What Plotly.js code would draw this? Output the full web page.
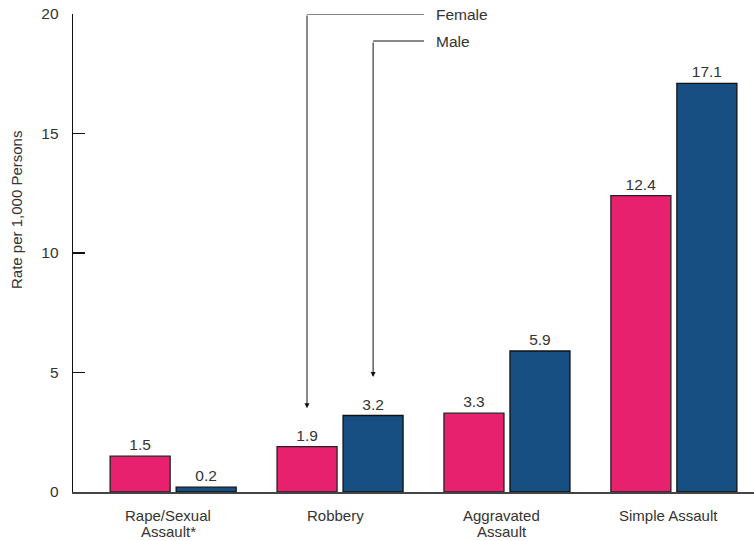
<!DOCTYPE html>
<html>
<head>
<meta charset="utf-8">
<script src="https://cdn.plot.ly/plotly-3.0.1.min.js"></script>
<style>html,body{margin:0;padding:0;background:#fff;}#chart{width:754px;height:541px;}</style>
</head>
<body>
<div id="chart"></div>
<script>
const categories = ["Rape/Sexual<br>Assault*", "Robbery", "Aggravated<br>Assault", "Simple Assault"];
const female = [1.5, 1.9, 3.3, 12.4];
const male = [0.2, 3.2, 5.9, 17.1];
const yTicks = [0, 5, 10, 15, 20];

const font = "Liberation Sans, Arial, sans-serif";
const fs = 15.5;
const catIdx = categories.map((c, i) => i);

const traces = [
  {type: 'bar', name: 'Female', x: catIdx, y: female,
   text: female.map(v => v.toFixed(1)), textposition: 'outside', cliponaxis: false,
   textfont: {family: font, size: fs, color: '#333'},
   marker: {color: '#E8216E', line: {color: '#222', width: 1.3}}},
  {type: 'bar', name: 'Male', x: catIdx, y: male,
   text: male.map(v => v.toFixed(1)), textposition: 'outside', cliponaxis: false,
   textfont: {family: font, size: fs, color: '#333'},
   marker: {color: '#174F82', line: {color: '#111', width: 1.3}}}
];

// offsets of bars within a group
const off = 0.198;
const fx = 1 - off, mx = 1 + off;

// category labels, one annotation per line
const catAnn = [];
categories.forEach((c, i) => {
  c.split('<br>').forEach((line, j) => {
    catAnn.push({xref: 'x', yref: 'paper', x: i, y: 0, xshift: -5, yshift: -23 - 16 * j,
      xanchor: 'center', yanchor: 'middle', text: line, showarrow: false, borderpad: 0,
      font: {family: font, size: 15, color: '#333'}});
  });
});

const layout = {
  width: 754, height: 541,
  margin: {l: 73, r: 0, t: 14, b: 49},
  paper_bgcolor: '#fff', plot_bgcolor: '#fff',
  showlegend: false,
  barmode: 'group', bargap: 0.209, bargroupgap: 0.0909,
  font: {family: font, color: '#333'},
  xaxis: {
    range: [-0.6, 3.48], tickmode: 'array', tickvals: catIdx,
    showticklabels: false,
    showgrid: false, zeroline: false, showline: true, linecolor: '#444', linewidth: 1.5,
    ticks: ''
  },
  yaxis: {
    range: [0, 20], tickvals: yTicks, ticktext: yTicks.map(String),
    showgrid: false, zeroline: false, showline: true, linecolor: '#111', linewidth: 1.3,
    ticks: 'inside', ticklen: 12, tickwidth: 1.3, tickcolor: '#111',
    ticklabelstandoff: 10, tickfont: {family: font, size: fs, color: '#333'}
  },
  shapes: [
    {type: 'line', xref: 'x', yref: 'y', x0: fx, x1: 1.503, y0: 20, y1: 20, line: {color: '#111', width: 1}},
    {type: 'line', xref: 'x', yref: 'y', x0: mx, x1: 1.503, y0: 18.87, y1: 18.87, line: {color: '#111', width: 1}}
  ],
  annotations: [
    {xref: 'x', yref: 'y', axref: 'x', ayref: 'y', x: fx, y: 3.5, ax: fx, ay: 20, text: '',
     showarrow: true, arrowhead: 2, arrowsize: 1, arrowwidth: 1, arrowcolor: '#111'},
    {xref: 'x', yref: 'y', axref: 'x', ayref: 'y', x: mx, y: 4.81, ax: mx, ay: 18.87, text: '',
     showarrow: true, arrowhead: 2, arrowsize: 1, arrowwidth: 1, arrowcolor: '#111'},
    {xref: 'x', yref: 'y', x: 1.503, y: 20, xanchor: 'left', yanchor: 'middle', xshift: 10,
     text: 'Female', showarrow: false, font: {family: font, size: fs, color: '#333'}},
    {xref: 'x', yref: 'y', x: 1.503, y: 18.87, xanchor: 'left', yanchor: 'middle', xshift: 10,
     text: 'Male', showarrow: false, font: {family: font, size: fs, color: '#333'}},
    {xref: 'paper', yref: 'paper', x: 0, y: 0.59, xshift: -56, xanchor: 'center', yanchor: 'middle',
     textangle: -90, text: 'Rate per 1,000 Persons', showarrow: false,
     font: {family: font, size: 15, color: '#333'}}
  ].concat(catAnn)
};

Plotly.newPlot('chart', traces, layout, {displayModeBar: false, staticPlot: true});
</script>
</body>
</html>
